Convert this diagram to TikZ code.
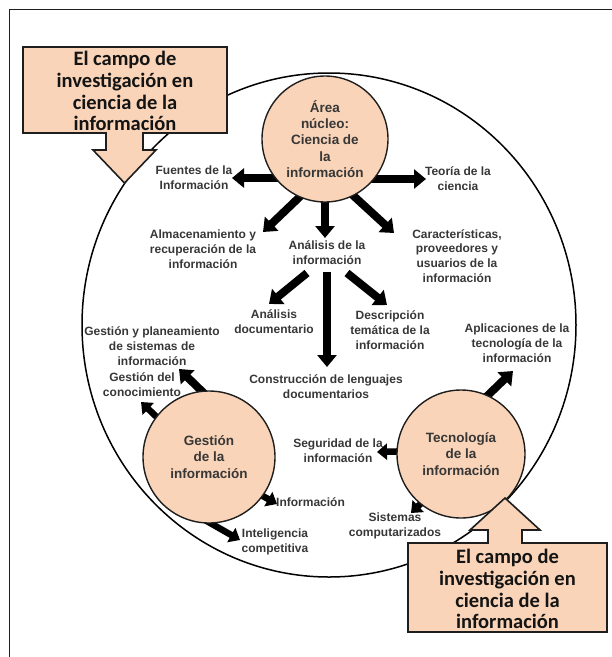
\documentclass[tikz,border=0pt]{standalone}
\usepackage{fontspec}
\setmainfont{Liberation Sans}
\newfontfamily\callfont{Carlito}
\usetikzlibrary{arrows.meta}
\definecolor{peach}{RGB}{249,212,184}
\definecolor{ink}{RGB}{30,30,30}
\definecolor{labelc}{RGB}{55,55,55}
\pgfdeclarelayer{bg}
\pgfdeclarelayer{mid}
\pgfsetlayers{bg,mid,main}
\begin{document}
\begin{tikzpicture}[x=1pt,y=-1pt,
  lbl/.style={font=\fontsize{12}{14.8}\selectfont\bfseries, text=labelc, align=center, inner sep=0pt},
  circ/.style={circle, draw=ink, line width=1.4pt, fill=peach, minimum size=#1, inner sep=0pt, align=center, font=\fontsize{13.5}{16.4}\selectfont\bfseries, text=labelc},
  callout/.style={draw=ink, line width=1.6pt, fill=peach},
  calltext/.style={font=\callfont\fontsize{20.5}{21.8}\selectfont\bfseries, text=black!92, align=center, inner sep=0pt},
  bigarrow/.style={line width=8pt, -{Triangle[width=19pt,length=12pt]}},
  smallarrow/.style={line width=6.5pt, -{Triangle[width=16pt,length=10pt]}},
]
\useasboundingbox (0,0) rectangle (612,657);
\draw[ink, line width=1.3pt] (9.5,657) -- (9.5,9.5) -- (612,9.5);

% outer field
\begin{pgfonlayer}{bg}
\draw[line width=1.5pt] (329,325) ellipse [x radius=247, y radius=252];
\end{pgfonlayer}

% arrow end points
\coordinate (sF) at (300,178);  \coordinate (tF) at (232,178);
\coordinate (sT) at (350,179);  \coordinate (tT) at (426,179);
\coordinate (sA) at (310,187);  \coordinate (tA) at (263,232);
\coordinate (sN) at (325,185);  \coordinate (tN) at (325,238);
\coordinate (sC) at (345,188);  \coordinate (tC) at (394,233);
\coordinate (sD) at (307,273);  \coordinate (tD) at (269,304);
\coordinate (sL) at (327,272);  \coordinate (tL) at (327,367);
\coordinate (sE) at (347,273);  \coordinate (tE) at (387,305);
\coordinate (sG1) at (213,402); \coordinate (tG1) at (179,369);
\coordinate (sG2) at (165,425); \coordinate (tG2) at (141,402);
\coordinate (sI) at (245,486);  \coordinate (tI) at (277,504);
\coordinate (sJ) at (205,520);  \coordinate (tJ) at (240,540);
\coordinate (sP) at (483,400);  \coordinate (tP) at (513,371);
\coordinate (sS) at (415,451);  \coordinate (tS) at (377,452);
\coordinate (sY) at (435,490);  \coordinate (tY) at (411,513);

\begin{pgfonlayer}{mid}
\draw[bigarrow] (sF) -- (tF);
\draw[bigarrow] (sT) -- (tT);
\draw[bigarrow] (sA) -- (tA);
\draw[bigarrow] (sN) -- (tN);
\draw[bigarrow] (sC) -- (tC);
\draw[bigarrow] (sD) -- (tD);
\draw[bigarrow] (sL) -- (tL);
\draw[bigarrow] (sE) -- (tE);
\draw[bigarrow] (sG1) -- (tG1);
\draw[smallarrow] (sG2) -- (tG2);
\draw[smallarrow] (sI) -- (tI);
\draw[smallarrow] (sJ) -- (tJ);
\draw[bigarrow] (sP) -- (tP);
\draw[smallarrow] (sS) -- (tS);
\draw[smallarrow] (sY) -- (tY);
\end{pgfonlayer}

% circles
\node[circ=126pt] (core) at (325,139) {Área\\núcleo:\\Ciencia de\\la\\información};
\node[circ=132pt] (gest) at (209,457) {Gestión\\de la\\información};
\node[circ=128pt] (tecn) at (461,454) {Tecnología\\de la\\información};

% labels
\node[lbl] (fuentes) at (194,178) {Fuentes de la\\Información};
\node[lbl] (teoria) at (458,179) {Teoría de la\\ciencia};
\node[lbl] (almac) at (203,249) {Almacenamiento y\\recuperación de la\\información};
\node[lbl] (analisis) at (327,253) {Análisis de la\\información};
\node[lbl] (caract) at (457,256) {Características,\\proveedores y\\usuarios de la\\información};
\node[lbl] (adoc) at (274,322) {Análisis\\documentario};
\node[lbl] (desc) at (390,330) {Descripción\\temática de la\\información};
\node[lbl] (gplan) at (152,346) {Gestión y planeamiento\\de sistemas de\\información};
\node[lbl] (aplic) at (517,343) {Aplicaciones de la\\tecnología de la\\información};
\node[lbl] (gcon) at (142,385) {Gestión del\\conocimiento};
\node[lbl] (constr) at (326,387) {Construcción de lenguajes\\documentarios};
\node[lbl] (segur) at (338,451) {Seguridad de la\\información};
\node[lbl,anchor=west] (infor) at (276,502) {Información};
\node[lbl] (intel) at (275,542) {Inteligencia\\competitiva};
\node[lbl] (sist) at (395,526) {Sistemas\\computarizados};

% callouts
\draw[callout] (23,47) -- (227,47) -- (227,133) -- (143,133) -- (143,150) -- (156,150)
  -- (124.5,183) -- (93,150) -- (106,150) -- (106,133) -- (23,133) -- cycle;
\node[calltext] (calltop) at (125,91) {El campo de\\investigación en\\ciencia de la\\información};
\draw[callout] (408,632) -- (607,632) -- (607,543) -- (522,543) -- (522,530) -- (540,530)
  -- (505,498) -- (470,530) -- (488,530) -- (488,543) -- (408,543) -- cycle;
\node[calltext] (callbot) at (507.5,589) {El campo de\\investigación en\\ciencia de la\\información};
\end{tikzpicture}
\end{document}
